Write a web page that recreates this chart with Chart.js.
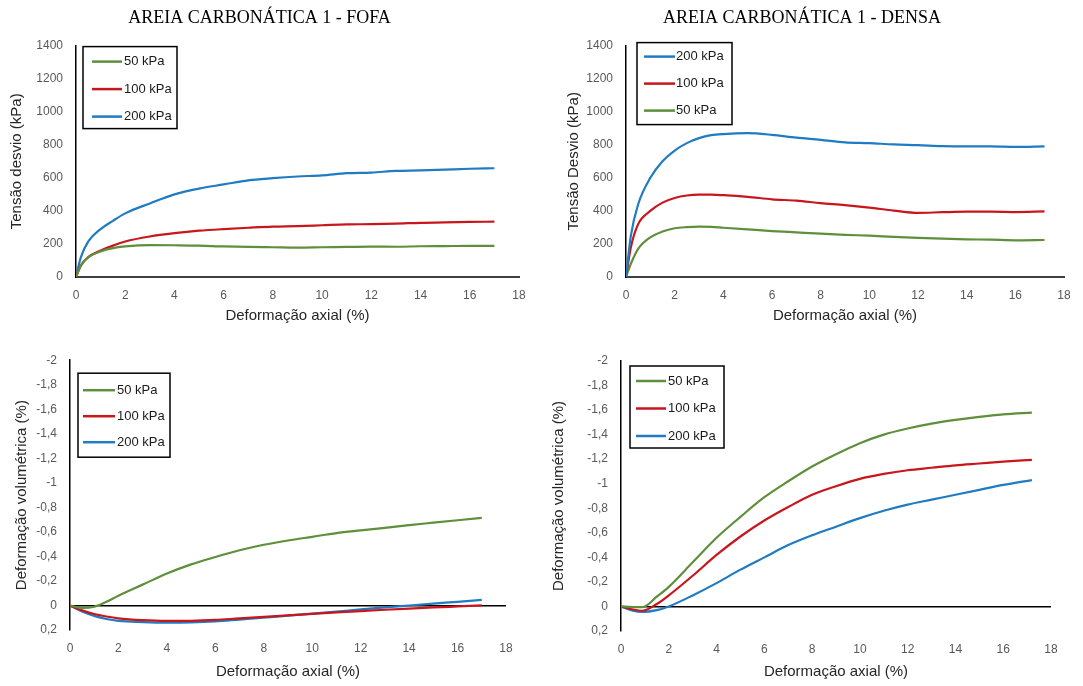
<!DOCTYPE html>
<html lang="pt">
<head>
<meta charset="utf-8">
<title>Areia carbonática 1</title>
<script src="https://cdn.jsdelivr.net/npm/chart.js"></script>
<style>
  html, body { margin: 0; padding: 0; background: #fff; }
  #page { position: relative; width: 1083px; height: 686px; overflow: hidden; }
  #page canvas { position: absolute; }
</style>
</head>
<body>
<div id="page">
  <canvas id="c1" width="540" height="340" style="left:0;top:0"></canvas>
  <canvas id="c2" width="543" height="340" style="left:540px;top:0"></canvas>
  <canvas id="c3" width="540" height="346" style="left:0;top:340px"></canvas>
  <canvas id="c4" width="543" height="346" style="left:540px;top:340px"></canvas>
</div>
<script>
// Tensão desvio x deformação axial - areia fofa
const epsQFofa = [0, 0.2, 0.5, 1, 1.5, 2, 3, 4, 5, 6, 7, 8, 9, 10, 11, 12, 13, 14, 15, 16, 17];
const qFofa50  = [0, 70, 120, 155, 175, 185, 193, 192, 190, 185, 182, 180, 178, 180, 182, 184, 183, 186, 187, 188, 188];
const qFofa100 = [0, 70, 120, 160, 190, 215, 245, 265, 280, 290, 298, 305, 308, 313, 318, 320, 323, 328, 330, 333, 335];
const qFofa200 = [0, 120, 215, 290, 340, 385, 445, 500, 535, 560, 585, 598, 608, 615, 628, 632, 642, 645, 650, 655, 658];

// Tensão desvio x deformação axial - areia densa
const epsQDensa = [0, 0.2, 0.5, 1, 1.5, 2, 2.5, 3, 3.5, 4, 5, 6, 7, 8, 9, 10, 11, 12, 13, 14, 15, 16, 17.2];
const qDensa200 = [0, 250, 440, 600, 700, 765, 810, 840, 858, 865, 870, 860, 843, 830, 815, 810, 802, 798, 792, 790, 790, 787, 790];
const qDensa100 = [0, 180, 320, 400, 450, 478, 493, 498, 498, 495, 485, 470, 462, 447, 435, 420, 402, 388, 392, 395, 395, 393, 397];
const qDensa50  = [0, 80, 170, 240, 275, 295, 302, 305, 303, 298, 288, 278, 270, 262, 255, 250, 243, 237, 232, 228, 226, 222, 224];

// Deformação volumétrica x deformação axial - areia fofa
const epsVFofa = [0, 0.5, 1, 1.5, 2, 3, 4, 5, 6, 7, 8, 9, 10, 11, 12, 13, 14, 15, 16, 17];
const evFofa50  = [0, 0.02, 0.01, -0.03, -0.08, -0.17, -0.26, -0.335, -0.395, -0.45, -0.495, -0.53, -0.56, -0.59, -0.612, -0.633, -0.655, -0.675, -0.695, -0.715];
const evFofa100 = [0, 0.04, 0.07, 0.09, 0.105, 0.12, 0.126, 0.125, 0.118, 0.105, 0.093, 0.08, 0.068, 0.057, 0.046, 0.035, 0.025, 0.016, 0.008, 0];
const evFofa200 = [0, 0.05, 0.085, 0.11, 0.125, 0.135, 0.14, 0.138, 0.13, 0.115, 0.1, 0.083, 0.067, 0.05, 0.032, 0.015, 0, -0.015, -0.03, -0.045];

// Deformação volumétrica x deformação axial - areia densa
const epsVDensa = [0, 0.5, 0.9, 1.5, 2, 3, 4, 5, 6, 7, 8, 9, 10, 11, 12, 13, 14, 15, 16, 17.2];
const evDensa50  = [0, 0.005, 0.005, -0.08, -0.16, -0.36, -0.56, -0.73, -0.89, -1.02, -1.14, -1.24, -1.33, -1.40, -1.45, -1.49, -1.52, -1.545, -1.565, -1.58];
const evDensa100 = [0, 0.025, 0.035, -0.02, -0.09, -0.25, -0.42, -0.57, -0.70, -0.81, -0.91, -0.98, -1.04, -1.08, -1.11, -1.13, -1.15, -1.165, -1.18, -1.195];
const evDensa200 = [0, 0.035, 0.045, 0.03, 0, -0.09, -0.19, -0.30, -0.40, -0.50, -0.58, -0.65, -0.72, -0.78, -0.83, -0.87, -0.91, -0.95, -0.99, -1.03];

const SANS = "'Liberation Sans', Arial, sans-serif";
const SERIF = "'Liberation Serif', 'Times New Roman', serif";
const GREEN = '#5e8f3a';
const RED = '#c8161d';
const BLUE = '#1f7bc2';

function pts(xs, ys) {
  return xs.map((x, i) => ({ x: x, y: ys[i] }));
}

// legenda com moldura, desenhada dentro da área do gráfico
const boxLegend = {
  id: 'boxLegend',
  afterDatasetsDraw(chart, args, o) {
    const { ctx, chartArea } = chart;
    const x0 = chartArea.left + o.dx;
    const y0 = chartArea.top + o.dy;
    ctx.save();
    ctx.fillStyle = '#fff';
    ctx.fillRect(x0, y0, o.w, o.h);
    ctx.strokeStyle = '#000';
    ctx.lineWidth = 1.5;
    ctx.strokeRect(x0, y0, o.w, o.h);
    ctx.font = '13px ' + SANS;
    ctx.textBaseline = 'middle';
    chart.data.datasets.forEach((ds, i) => {
      const y = y0 + o.first + i * o.gap;
      ctx.strokeStyle = ds.borderColor;
      ctx.lineWidth = 2.5;
      ctx.beginPath();
      ctx.moveTo(x0 + o.lx0, y);
      ctx.lineTo(x0 + o.lx1, y);
      ctx.stroke();
      ctx.fillStyle = '#1a1a1a';
      ctx.fillText(ds.label, x0 + o.tx, y);
    });
    ctx.restore();
  }
};

function volTick(v) {
  return String(Number(v.toFixed(1))).replace('.', ',');
}

function makeChart(id, o) {
  const tickFont = { family: SANS, size: 12 };
  const yScale = o.vol ? {
    reverse: true,
    min: -2,
    max: 0.2,
    ticks: { stepSize: 0.2, padding: 13, color: '#595959', font: tickFont, callback: volTick },
    grid: {
      display: true,
      drawTicks: false,
      lineWidth: 1.5,
      color: c => (Math.abs(c.tick.value) < 1e-9 ? '#000' : 'rgba(0,0,0,0)')
    },
    border: { display: true, color: '#000', width: 1.5 },
    title: { display: true, text: o.yTitle, color: '#262626', font: { family: SANS, size: 15 }, padding: { top: o.yTitlePad, bottom: 0 } },
    afterFit: s => { s.width = o.yW; }
  } : {
    min: 0,
    max: 1400,
    ticks: { stepSize: 200, padding: 13, color: '#595959', font: tickFont, callback: v => String(v) },
    grid: { display: false, drawTicks: false },
    border: { display: true, color: '#000', width: 1.5 },
    title: { display: true, text: o.yTitle, color: '#262626', font: { family: SANS, size: 15 }, padding: { top: o.yTitlePad, bottom: 0 } },
    afterFit: s => { s.width = o.yW; }
  };

  return new Chart(document.getElementById(id), {
    type: 'line',
    data: {
      datasets: o.series.map(s => ({
        label: s.label,
        data: s.data,
        borderColor: s.color,
        backgroundColor: s.color,
        borderWidth: 2.2,
        pointRadius: 0,
        fill: false,
        cubicInterpolationMode: 'monotone'
      }))
    },
    options: {
      responsive: false,
      animation: false,
      layout: { padding: { top: o.padTop, right: o.padRight, left: 0, bottom: 0 } },
      scales: {
        x: {
          type: 'linear',
          min: 0,
          max: 18,
          ticks: { stepSize: 2, padding: o.xTickPad, color: '#595959', font: tickFont },
          grid: { display: false, drawTicks: false },
          border: { display: !o.vol, color: '#404040', width: 2 },
          title: { display: true, text: 'Deformação axial (%)', color: '#262626', font: { family: SANS, size: 15 }, padding: { top: 0, bottom: o.xTitlePad } },
          afterFit: s => { s.height = o.xH; }
        },
        y: yScale
      },
      plugins: {
        legend: { display: false },
        tooltip: { enabled: false },
        title: o.title ? {
          display: true,
          text: o.title,
          color: '#000',
          font: { family: SERIF, size: 18, weight: 'normal' },
          padding: { top: 7, bottom: 17 }
        } : { display: false },
        boxLegend: o.legend
      }
    },
    plugins: [boxLegend]
  });
}

makeChart('c1', {
  title: 'AREIA CARBONÁTICA 1 - FOFA',
  yTitle: 'Tensão desvio (kPa)',
  padTop: 0, padRight: 21, yW: 76, xH: 63,
  xTickPad: 11, xTitlePad: 15, yTitlePad: 8,
  legend: { dx: 7, dy: 1, w: 94, h: 82, first: 15, gap: 27.5, lx0: 9, lx1: 39, tx: 41 },
  series: [
    { label: '50 kPa', color: GREEN, data: pts(epsQFofa, qFofa50) },
    { label: '100 kPa', color: RED, data: pts(epsQFofa, qFofa100) },
    { label: '200 kPa', color: BLUE, data: pts(epsQFofa, qFofa200) }
  ]
});

makeChart('c2', {
  title: 'AREIA CARBONÁTICA 1 - DENSA',
  yTitle: 'Tensão Desvio (kPa)',
  padTop: 0, padRight: 19, yW: 86, xH: 63,
  xTickPad: 11, xTitlePad: 15, yTitlePad: 25,
  legend: { dx: 11, dy: -3, w: 95, h: 82, first: 14, gap: 27, lx0: 7, lx1: 38, tx: 39 },
  series: [
    { label: '200 kPa', color: BLUE, data: pts(epsQDensa, qDensa200) },
    { label: '100 kPa', color: RED, data: pts(epsQDensa, qDensa100) },
    { label: '50 kPa', color: GREEN, data: pts(epsQDensa, qDensa50) }
  ]
});

makeChart('c3', {
  vol: true,
  yTitle: 'Deformação volumétrica (%)',
  padTop: 20, padRight: 34, yW: 70, xH: 56,
  xTickPad: 11, xTitlePad: 5, yTitlePad: 13,
  legend: { dx: 8, dy: 13, w: 92, h: 84, first: 17, gap: 26, lx0: 5, lx1: 37, tx: 39 },
  series: [
    { label: '50 kPa', color: GREEN, data: pts(epsVFofa, evFofa50) },
    { label: '100 kPa', color: RED, data: pts(epsVFofa, evFofa100) },
    { label: '200 kPa', color: BLUE, data: pts(epsVFofa, evFofa200) }
  ]
});

makeChart('c4', {
  vol: true,
  yTitle: 'Deformação volumétrica (%)',
  padTop: 21, padRight: 32, yW: 81, xH: 55,
  xTickPad: 11, xTitlePad: 5, yTitlePad: 10,
  legend: { dx: 9, dy: 5, w: 94, h: 82, first: 15, gap: 27.5, lx0: 6, lx1: 36, tx: 38 },
  series: [
    { label: '50 kPa', color: GREEN, data: pts(epsVDensa, evDensa50) },
    { label: '100 kPa', color: RED, data: pts(epsVDensa, evDensa100) },
    { label: '200 kPa', color: BLUE, data: pts(epsVDensa, evDensa200) }
  ]
});
</script>
</body>
</html>
